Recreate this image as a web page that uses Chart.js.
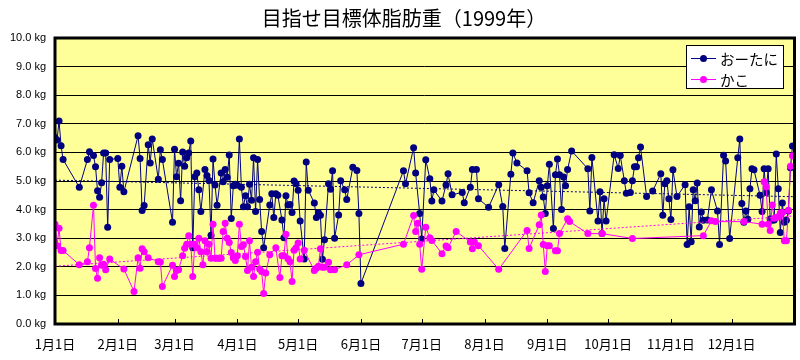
<!DOCTYPE html>
<html><head><meta charset="utf-8">
<script src="https://cdn.jsdelivr.net/npm/chart.js@4.4.1/dist/chart.umd.min.js"></script>
<style>html,body{margin:0;padding:0;background:#fff}#wrap{width:800px;height:360px}</style>
</head><body><div id="wrap"><canvas id="c" width="800" height="360"></canvas></div>
<script>
const chartTitle = '目指せ目標体脂肪重（1999年）';
const seriesNames = ['おーたに', 'かこ'];
const monthStarts = [0, 31, 59, 90, 120, 151, 181, 212, 243, 273, 304, 334];
const monthLabels = ['1月1日','2月1日','3月1日','4月1日','5月1日','6月1日','7月1日','8月1日','9月1日','10月1日','11月1日','12月1日'];

// day of year (0 = 1月1日)
const otaniDays = [0,1,2,3,4,12,16,17,19,20,21,22,23,24,25,26,27,31,32,33,34,41,42,43,44,46,47,48,51,52,53,58,59,60,61,62,63,64,65,66,67,68,69,70,71,72,74,75,76,77,78,79,80,82,83,84,85,86,87,88,89,90,91,92,93,94,95,96,97,98,99,100,101,102,103,106,107,108,109,110,112,113,114,115,116,117,118,119,120,121,123,124,125,128,129,130,131,132,133,135,136,137,138,140,141,143,144,147,149,150,151,172,173,177,178,180,181,183,185,186,187,191,193,194,196,201,202,205,206,208,209,214,219,221,222,225,226,228,233,234,236,239,240,241,242,243,244,246,247,248,249,250,251,252,253,255,263,264,265,268,269,270,271,272,276,278,279,281,282,284,285,286,287,288,289,292,295,299,300,301,302,303,304,305,307,311,312,313,314,315,316,317,318,319,320,322,324,327,328,330,331,333,337,338,339,340,341,342,343,344,345,348,349,350,351,352,353,354,355,356,357,358,359,360,361,362,363,364];
const otaniKg = [6.52,6.43,7.10,6.23,5.75,4.78,5.75,6.02,5.89,5.5,4.66,4.43,4.94,5.98,5.98,3.38,5.75,5.79,4.78,5.52,4.62,6.58,5.79,3.97,4.14,6.27,5.63,6.47,5.06,6.09,5.75,3.56,6.11,5.15,5.62,4.31,6.01,5.52,5.81,5.98,6.4,2.67,5.15,5.28,4.69,3.93,5.4,5.19,5.02,3.1,5.77,4.86,4.15,5.28,4.97,5.4,5.13,5.91,3.69,4.83,4.89,4.85,6.47,4.78,4.1,4.48,4.1,4.89,4.33,5.81,3.93,5.75,4.35,3.23,2.67,4.16,4.55,3.72,4.55,4.5,3.64,3.02,4.48,4.16,4.18,3.9,5.0,4.9,4.68,3.6,2.27,5.66,4.68,4.23,3.72,3.9,3.8,2.26,2.95,4.9,4.71,5.36,3.0,3.81,5.01,4.69,4.35,5.48,5.37,3.86,1.42,5.36,4.9,6.16,5.28,3.86,2.97,5.74,5.08,4.3,4.69,4.3,4.86,5.25,4.52,4.6,4.24,4.78,5.4,5.4,4.38,4.08,4.87,4.11,2.64,5.24,5.98,5.63,5.36,4.59,4.24,5.01,4.78,4.44,3.86,4.83,5.59,3.34,5.22,5.77,5.22,4.0,5.14,4.83,5.4,6.05,5.43,3.95,5.82,3.6,4.62,3.16,4.38,3.6,5.92,5.44,5.89,5.01,4.57,4.6,5.01,5.5,5.5,5.81,6.19,4.46,4.65,5.25,3.8,4.9,5.01,4.38,3.65,5.39,4.46,4.87,2.78,4.1,2.88,4.69,4.31,4.93,3.39,3.92,3.63,3.64,4.69,3.95,2.78,5.9,5.7,2.99,5.81,6.47,4.21,3.56,3.95,3.66,4.73,5.43,5.39,4.5,3.93,5.43,4.6,5.43,3.67,3.63,3.64,5.94,4.73,3.2,4.23,3.56,3.63,3.95,5.46,6.22];

const kakoDays = [0,1,2,3,4,12,16,17,19,20,21,22,23,24,25,27,34,39,41,42,43,44,46,51,52,53,58,59,60,61,63,64,65,66,67,68,69,70,71,72,73,74,75,76,77,78,79,80,81,82,83,84,85,86,87,88,89,90,91,92,93,94,95,96,97,98,99,100,101,102,103,104,106,109,111,112,113,114,115,116,117,118,119,120,121,123,128,129,130,131,132,133,135,136,138,144,150,172,177,178,179,180,181,183,185,186,191,193,194,198,205,206,207,209,219,233,234,239,240,241,242,243,244,247,248,249,253,254,263,270,285,320,324,326,340,349,350,351,352,353,354,355,356,357,358,359,360,361,362,363,364];
const kakoKg = [3.49,2.74,3.35,2.57,2.57,2.07,2.18,2.67,4.15,1.94,1.6,2.32,2.05,2.09,1.9,2.27,1.92,1.14,2.32,1.95,2.63,2.53,2.32,2.18,2.17,1.31,2.05,1.66,1.87,1.9,2.39,2.65,2.79,3.09,2.79,1.66,2.79,2.67,3.0,2.53,2.07,2.91,2.53,2.79,2.3,3.49,2.3,2.3,2.3,2.3,3.23,3.52,3.0,2.85,2.5,2.32,2.22,2.39,3.49,2.71,2.77,2.36,1.87,2.91,1.98,1.66,2.18,2.51,1.92,1.84,1.07,1.78,2.42,2.67,1.63,2.39,2.39,3.14,2.28,2.18,1.49,2.58,2.67,2.83,2.27,2.58,1.87,1.95,2.02,2.63,1.98,1.98,2.16,1.9,1.9,2.07,2.42,2.79,3.79,3.23,3.52,2.79,1.91,3.38,3.02,2.92,2.46,2.73,2.67,3.23,2.87,2.63,2.87,2.74,1.91,3.27,2.64,3.47,3.81,2.78,1.84,2.74,2.74,2.56,2.56,3.16,3.68,3.58,3.16,3.16,2.99,3.09,3.61,3.58,3.58,3.49,4.97,4.8,3.49,3.27,4.16,3.7,3.72,3.75,3.88,3.9,2.91,2.91,3.98,5.52,5.88];

// trend lines (end points)
const otaniTrendDays = [0, 365];
const otaniTrendKg = [5.03, 4.45];
const kakoTrendDays = [0, 365];
const kakoTrendKg = [2.02, 3.78];

const NAVY = '#000080', MAGENTA = '#FF00FF';
const toXY = (xs, ys) => xs.map((x, i) => ({x, y: ys[i]}));

const decor = {
  id: 'decor',
  beforeDraw(chart) {
    const {ctx, chartArea: a} = chart;
    ctx.save();
    ctx.fillStyle = '#fff';
    ctx.fillRect(0, 0, chart.width, chart.height);
    ctx.fillStyle = '#FFFF99';
    ctx.fillRect(a.left, a.top, a.right - a.left, a.bottom - a.top);
    ctx.restore();
  },
  afterDraw(chart) {
    const {ctx, chartArea: a} = chart;
    const xs = chart.scales.x;
    ctx.save();
    // inner tick marks
    ctx.strokeStyle = '#000'; ctx.lineWidth = 1;
    monthStarts.forEach(d => {
      const px = Math.round(xs.getPixelForValue(d)) + 0.5;
      ctx.beginPath(); ctx.moveTo(px, a.bottom); ctx.lineTo(px, a.bottom - 5); ctx.stroke();
    });
    // plot border
    ctx.lineWidth = 3;
    ctx.strokeRect(a.left, a.top, a.right - a.left, a.bottom - a.top);
    // title
    ctx.fillStyle = '#000';
    ctx.font = '20px "Noto Sans CJK JP"';
    ctx.textAlign = 'center'; ctx.textBaseline = 'middle';
    ctx.fillText(chartTitle, 404, 18);
    // legend
    const lx = 686, ly = 45, lw = 97, lh = 43;
    ctx.fillStyle = '#fff';
    ctx.fillRect(lx, ly, lw, lh);
    ctx.lineWidth = 1; ctx.strokeStyle = '#000';
    ctx.strokeRect(lx + 0.5, ly + 0.5, lw, lh);
    const cols = [NAVY, MAGENTA];
    seriesNames.forEach((name, i) => {
      const y = ly + 13.5 + i * 21;
      ctx.strokeStyle = cols[i]; ctx.lineWidth = 1;
      ctx.beginPath(); ctx.moveTo(lx + 5, y); ctx.lineTo(lx + 30, y); ctx.stroke();
      ctx.fillStyle = cols[i];
      ctx.beginPath(); ctx.arc(lx + 17.5, y, 3.5, 0, Math.PI * 2); ctx.fill();
      ctx.fillStyle = '#000';
      ctx.font = '14.5px "Noto Sans CJK JP"';
      ctx.textAlign = 'left'; ctx.textBaseline = 'middle';
      ctx.fillText(name, lx + 34, y + 1);
    });
    ctx.restore();
  }
};

new Chart(document.getElementById('c'), {
  type: 'line',
  data: {
    datasets: [
      {label: seriesNames[0], data: toXY(otaniDays, otaniKg), borderColor: NAVY, backgroundColor: NAVY,
       borderWidth: 1, pointRadius: 3.5, pointBorderWidth: 0, pointBackgroundColor: NAVY, order: 2, tension: 0},
      {label: seriesNames[1], data: toXY(kakoDays, kakoKg), borderColor: MAGENTA, backgroundColor: MAGENTA,
       borderWidth: 1, pointRadius: 3.5, pointBorderWidth: 0, pointBackgroundColor: MAGENTA, order: 1, tension: 0},
      {label: 'trend1', data: toXY(otaniTrendDays, otaniTrendKg), borderColor: NAVY, borderWidth: 1,
       borderDash: [2, 2], pointRadius: 0, order: 0},
      {label: 'trend2', data: toXY(kakoTrendDays, kakoTrendKg), borderColor: MAGENTA, borderWidth: 1,
       borderDash: [2, 2], pointRadius: 0, order: 0}
    ]
  },
  options: {
    responsive: false,
    animation: false,
    layout: {padding: {left: 0, right: 5.5, top: 38, bottom: 0}},
    plugins: {legend: {display: false}, title: {display: false}, tooltip: {enabled: false}},
    scales: {
      x: {
        type: 'linear', min: 0, max: 365,
        afterBuildTicks: s => { s.ticks = monthStarts.map(v => ({value: v})); },
        afterFit: s => { s.height = 36; },
        grid: {display: false, drawTicks: false},
        border: {display: false},
        ticks: {
          autoSkip: false, maxRotation: 0, padding: 12, color: '#000',
          font: {family: '"Noto Sans CJK JP"', size: 13},
          callback: v => monthLabels[monthStarts.indexOf(v)]
        }
      },
      y: {
        min: 0, max: 10,
        afterFit: s => { s.width = 55; },
        grid: {color: '#000', lineWidth: 1, drawTicks: false},
        border: {display: false},
        ticks: {
          stepSize: 1, padding: 9, color: '#000',
          font: {family: '"Liberation Sans"', size: 11},
          callback: v => v.toFixed(1) + ' kg'
        }
      }
    }
  },
  plugins: [decor]
});
</script></body></html>
